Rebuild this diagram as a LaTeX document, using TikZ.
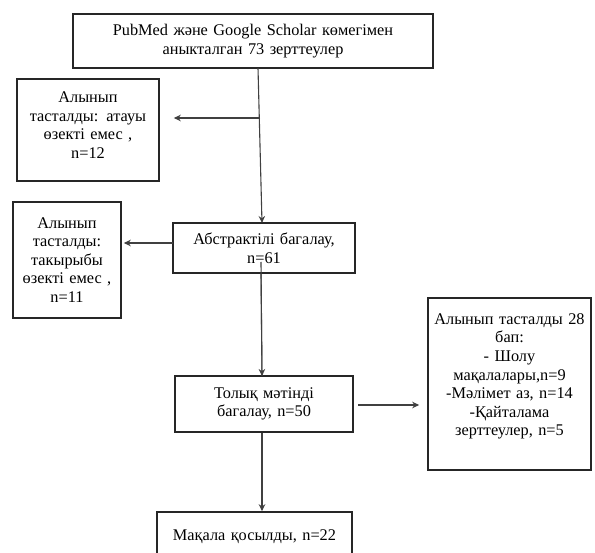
\documentclass[tikz,border=0pt]{standalone}
\usepackage{fontspec}
\setmainfont{Liberation Serif}
\usetikzlibrary{arrows.meta}
\begin{document}
\begin{tikzpicture}[x=1pt,y=-1pt,
  box/.style={draw=black!85, line width=1.6pt, rectangle, align=center, inner sep=2pt,
    font=\fontsize{16.3}{18.6}\selectfont, text=black},
  conn/.style={draw=black!75, line width=1.1pt},
  arr/.style={conn, -{Stealth[length=7pt,width=6.5pt]}}]
\useasboundingbox (0,0) rectangle (595,553);
\clip (0,0) rectangle (595,553);
\node[box, minimum width=360pt, minimum height=54pt, text width=350pt] (top) at (253,41)
  {PubMed және Google Scholar көмегімен\\аныкталган 73 зерттеулер};
\node[box, minimum width=142pt, minimum height=102pt, text width=136pt] (ex1) at (88,130)
  {Алынып\\тасталды: атауы\\өзекті емес ,\\n=12\\[-8.6pt]\mbox{}};
\node[box, minimum width=182pt, minimum height=50pt, text width=176pt] (abs) at (264,248)
  {Абстрактілі багалау,\\n=61};
\node[box, minimum width=108pt, minimum height=116pt, text width=104pt] (ex2) at (67,260)
  {Алынып\\тасталды:\\такырыбы\\өзекті емес ,\\n=11};
\node[box, minimum width=178pt, minimum height=56pt, text width=172pt] (full) at (264,404)
  {Толық мәтінді\\багалау, n=50};
\node[box, minimum width=163pt, minimum height=172pt, text width=159pt] (ex3) at (509.5,384)
  {Алынып тасталды 28\\бап:\\- Шолу\\мақалалары,n=9\\-Мәлімет аз, n=14\\-Қайталама\\зерттеулер, n=5\\\mbox{}};
\node[box, minimum width=195pt, minimum height=50pt, text width=189pt] (fin) at (254.5,537)
  {Мақала қосылды, n=22};
\coordinate (s1) at (258,68);
\coordinate (s2) at (262,223);
\coordinate (b1) at (260,118);
\coordinate (b2) at (173,243);
\draw[arr] (s1) -- (s2);
\draw[arr, shorten >=14pt] (b1) -- (ex1.east |- b1);
\draw[arr, shorten >=2pt] (b2) -- (ex2.east |- b2);
\coordinate (s3) at (261,262);
\coordinate (s4) at (262,376);
\draw[conn] (s3) -- (s4);
\draw[arr] (s3 |- abs.south) -- (s4);
\coordinate (r1) at (358,405);
\draw[arr, shorten >=8pt] (r1) -- (ex3.west |- r1);
\draw[arr] (full.south -| s4) -- (fin.north -| s4);
\end{tikzpicture}
\end{document}
